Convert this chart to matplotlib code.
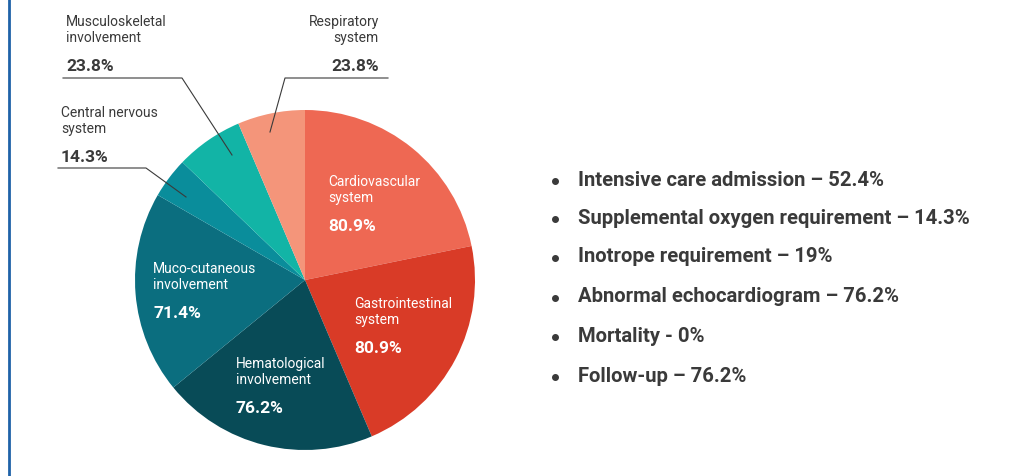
import matplotlib
matplotlib.use("Agg")
import matplotlib.pyplot as plt
from matplotlib.lines import Line2D

plt.rcParams['font.family'] = ['Roboto', 'DejaVu Sans']

categories = ["Cardiovascular\nsystem", "Gastrointestinal\nsystem", "Hematological\ninvolvement",
              "Muco-cutaneous\ninvolvement", "Central nervous\nsystem", "Musculoskeletal\ninvolvement",
              "Respiratory\nsystem"]
values = [80.9, 80.9, 76.2, 71.4, 14.3, 23.8, 23.8]
colors = ["#EE6853", "#D93B27", "#084B57", "#0B6E7F", "#0A8D9B", "#12B4A6", "#F4957A"]

bullets = ["Intensive care admission \u2013 52.4%",
           "Supplemental oxygen requirement \u2013 14.3%",
           "Inotrope requirement \u2013 19%",
           "Abnormal echocardiogram \u2013 76.2%",
           "Mortality - 0%",
           "Follow-up \u2013 76.2%"]

W, H = 1014, 476
fig = plt.figure(figsize=(W / 100, H / 100), dpi=100)
ax = fig.add_axes([0, 0, 1, 1])
ax.set_xlim(0, W)
ax.set_ylim(0, H)
ax.set_aspect('equal')
ax.axis('off')

def Y(y):
    return H - y

cx, cy, r = 305, 280, 170
ax.pie(values, colors=colors, startangle=90, counterclock=False,
       center=(cx, Y(cy)), radius=r, frame=True,
       wedgeprops=dict(linewidth=0))
ax.set_xlim(0, W)
ax.set_ylim(0, H)
ax.axis('off')

# left border line
ax.add_line(Line2D([8.5, 8.5], [0, H], color="#1F62A8", lw=2))

txt = "#3a3a3a"
lab_fs = 10
pct_fs = 12.5

def label(x, y, name, pct, ha='left', color=txt):
    ax.text(x, Y(y), name, ha=ha, va='top', fontsize=lab_fs, color=color, linespacing=1.15)
    ax.text(x, Y(y + 44), pct, ha=ha, va='top', fontsize=pct_fs, color=color, fontweight='bold')

def pct(v):
    return f"{v}%"

# outside labels
label(66, 15, categories[5], pct(values[5]))
label(379, 15, categories[6], pct(values[6]), ha='right')
label(61, 106, categories[4], pct(values[4]))

# leader lines
lc = "#3a3a3a"
ax.add_line(Line2D([270, 285, 388], [Y(132), Y(78), Y(78)], color=lc, lw=0.8))
ax.add_line(Line2D([232, 182, 63], [Y(155), Y(78), Y(78)], color=lc, lw=0.8))
ax.add_line(Line2D([186, 146, 58], [Y(197), Y(168), Y(168)], color=lc, lw=0.8))

# inside labels
label(328, 175, categories[0], pct(values[0]), color='white')
label(354, 297, categories[1], pct(values[1]), color='white')
label(236, 357, categories[2], pct(values[2]), color='white')
label(153, 262, categories[3], pct(values[3]), color='white')

# bullet list
ys = [180, 218, 257, 297, 336, 376]
for yy, b in zip(ys, bullets):
    ax.plot([555], [Y(yy + 1)], marker='o', markersize=4, color=txt, linestyle='none')
    ax.text(578, Y(yy), b, ha='left', va='center', fontsize=14.6, color=txt, fontweight='bold')

fig.savefig("out.png", dpi=100, facecolor='white')
